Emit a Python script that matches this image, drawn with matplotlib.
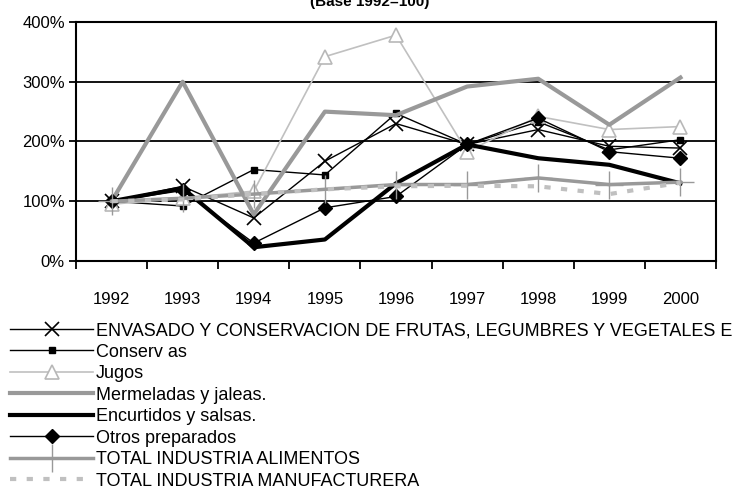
import matplotlib
matplotlib.use("Agg")
import matplotlib.pyplot as plt
from matplotlib.ticker import FuncFormatter

plt.rcParams["font.family"] = ["Liberation Sans Narrow", "Liberation Sans", "DejaVu Sans"]

# --- Data (index, base 1992 = 100) ---
years = ["1992", "1993", "1994", "1995", "1996", "1997", "1998", "1999", "2000"]
envasado = [100, 125, 72, 167, 230, 195, 220, 192, 189]
conservas = [100, 92, 153, 144, 247, 195, 233, 186, 203]
jugos = [95, 105, 117, 342, 378, 183, 242, 220, 225]
mermeladas = [100, 300, 78, 250, 244, 292, 305, 228, 307]
encurtidos = [100, 122, 23, 36, 130, 195, 172, 161, 130]
otros = [100, 118, 30, 89, 108, 195, 239, 183, 172]
total_alimentos = [100, 105, 112, 120, 128, 128, 139, 128, 132]
total_manufactura = [100, 103, 112, 120, 125, 126, 125, 112, 131]

x = list(range(len(years)))

fig = plt.figure(figsize=(7.42, 4.9), dpi=100)
ax = fig.add_axes([76 / 742, 1 - 261 / 490, 640 / 742, 239 / 490])

# --- Series ---
ax.plot(x, envasado, color="black", lw=1.0, marker="x", ms=10, mew=1.2,
        label="ENVASADO Y CONSERVACION DE FRUTAS, LEGUMBRES Y VEGETALES E")
ax.plot(x, conservas, color="black", lw=1.0, marker="s", ms=5,
        label="Conserv as")
ax.plot(x, jugos, color="#c0c0c0", lw=1.2, marker="^", ms=10, mfc="white",
        mec="#b8b8b8", mew=1.2, label="Jugos")
ax.plot(x, mermeladas, color="#999999", lw=3.0, label="Mermeladas y jaleas.")
ax.plot(x, encurtidos, color="black", lw=3.0, label="Encurtidos y salsas.")
ax.plot(x, otros, color="black", lw=1.0, marker="D", ms=7,
        label="Otros preparados")
ax.plot(x, total_alimentos, color="#999999", lw=2.5, marker="+", ms=20, mew=1.0,
        label="TOTAL INDUSTRIA ALIMENTOS")
ax.plot(x, total_manufactura, color="#c0c0c0", lw=3.0, dashes=(1.5, 2.5),
        label="TOTAL INDUSTRIA MANUFACTURERA")

# --- Axes style ---
ax.set_xlim(-0.5, len(years) - 0.5)
ax.set_ylim(0, 400)
ax.set_yticks([0, 100, 200, 300, 400])
ax.yaxis.set_major_formatter(FuncFormatter(lambda v, p: f"{int(v)}%"))
ax.grid(axis="y", color="black", lw=1.3)
ax.set_axisbelow(True)

ax.set_xticks(x)
ax.set_xticklabels(years)
ax.set_xticks([i - 0.5 for i in range(len(years) + 1)], minor=True)
ax.tick_params(axis="x", which="major", length=0, pad=22, labelsize=12)
ax.tick_params(axis="x", which="minor", length=6, width=1.3, direction="out")
ax.tick_params(axis="y", length=5, width=1.3, labelsize=12, pad=3)
for s in ax.spines.values():
    s.set_linewidth(1.5)
    s.set_color("black")

fig.text(370 / 742, 1 - 6 / 490, "(Base 1992=100)", ha="center", va="baseline",
         fontsize=11, fontweight="bold")

# --- Legend ---
fig.legend(loc="upper left", bbox_to_anchor=(10 / 742, 1 - 322 / 490), frameon=False,
           fontsize=13, handlelength=4.6, handletextpad=0.15, labelspacing=0.25,
           borderaxespad=0, borderpad=0.0)

plt.savefig("out.png", dpi=100)
